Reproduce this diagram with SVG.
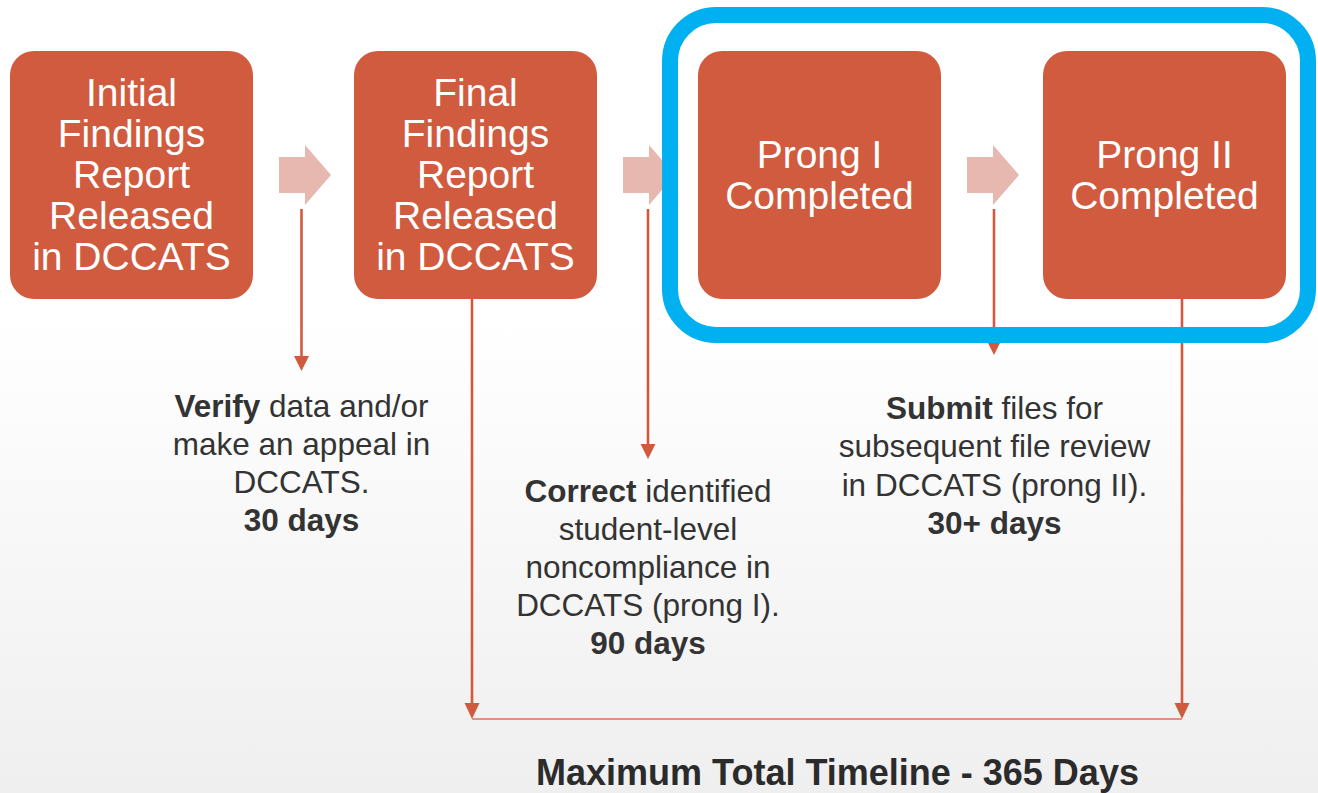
<svg xmlns="http://www.w3.org/2000/svg" width="1318" height="793" viewBox="0 0 1318 793">
<style>
.box{fill:#D15B3F}
.bt{font-family:"Liberation Sans",Arial,sans-serif;font-size:39px;fill:#FFFFFF;text-anchor:middle}
.lt{font-family:"Liberation Sans",Arial,sans-serif;font-size:31.5px;fill:#333333;text-anchor:middle}
.title{font-family:"Liberation Sans",Arial,sans-serif;font-size:36px;font-weight:bold;fill:#2B2B2B;text-anchor:middle}
.chev{fill:#E6B8AF}
.con{stroke:#D05A3E;stroke-width:2.6;fill:none}
.hz{stroke:#E3907E;stroke-width:2.2;fill:none}
.head{fill:#D05A3E}
</style>
<defs>
<linearGradient id="bg" x1="0" y1="0" x2="0" y2="1">
<stop offset="0" stop-color="#FFFFFF"/>
<stop offset="0.4" stop-color="#FFFFFF"/>
<stop offset="1" stop-color="#EFEFEF"/>
</linearGradient>
</defs>
<rect x="0" y="0" width="1318" height="793" fill="url(#bg)"/>

<g id="chevrons">
<polygon class="chev" points="279,157 305,157 305,145 331,175 305,205 305,193 279,193"/>
<polygon class="chev" points="623,157 649,157 649,145 675,175 649,205 649,193 623,193"/>
<polygon class="chev" points="967,157 993,157 993,145 1019,175 993,205 993,193 967,193"/>
</g>

<g id="connectors">
<line class="con" x1="301.5" y1="209" x2="301.5" y2="358"/>
<polygon class="head" points="294,356 309,356 301.5,371"/>
<line class="con" x1="648" y1="209" x2="648" y2="446"/>
<polygon class="head" points="640.5,444 655.5,444 648,459"/>
<line class="con" x1="994" y1="209" x2="994" y2="342"/>
<polygon class="head" points="986.5,340 1001.5,340 994,355"/>
<line class="con" x1="472" y1="299" x2="472" y2="705"/>
<polygon class="head" points="464.5,703 479.5,703 472,719"/>
<line class="con" x1="1182" y1="299" x2="1182" y2="705"/>
<polygon class="head" points="1174.5,703 1189.5,703 1182,719"/>
<line class="hz" x1="472" y1="719" x2="1182" y2="719"/>
</g>

<g id="node-initial">
<rect class="box" x="10" y="51" width="243" height="248" rx="24"/>
<text class="bt" x="131.5" y="106">Initial</text>
<text class="bt" x="131.5" y="147">Findings</text>
<text class="bt" x="131.5" y="188">Report</text>
<text class="bt" x="131.5" y="229">Released</text>
<text class="bt" x="131.5" y="270">in DCCATS</text>
</g>

<g id="node-final">
<rect class="box" x="354" y="51" width="243" height="248" rx="24"/>
<text class="bt" x="475.5" y="106">Final</text>
<text class="bt" x="475.5" y="147">Findings</text>
<text class="bt" x="475.5" y="188">Report</text>
<text class="bt" x="475.5" y="229">Released</text>
<text class="bt" x="475.5" y="270">in DCCATS</text>
</g>

<g id="node-prong1">
<rect class="box" x="698" y="51" width="243" height="248" rx="24"/>
<text class="bt" x="819.5" y="168">Prong I</text>
<text class="bt" x="819.5" y="209">Completed</text>
</g>

<g id="node-prong2">
<rect class="box" x="1043" y="51" width="243" height="248" rx="24"/>
<text class="bt" x="1164.5" y="168">Prong II</text>
<text class="bt" x="1164.5" y="209">Completed</text>
</g>

<g id="highlight">
<rect x="670" y="15" width="638" height="320" rx="46" fill="none" stroke="#00B0F0" stroke-width="16"/>
</g>

<g id="label-verify">
<text class="lt" x="301.5" y="417"><tspan font-weight="bold">Verify</tspan> data and/or</text>
<text class="lt" x="301.5" y="455">make an appeal in</text>
<text class="lt" x="301.5" y="493">DCCATS.</text>
<text class="lt" x="301.5" y="531" font-weight="bold">30 days</text>
</g>

<g id="label-correct">
<text class="lt" x="648" y="502"><tspan font-weight="bold">Correct</tspan> identified</text>
<text class="lt" x="648" y="540">student-level</text>
<text class="lt" x="648" y="578">noncompliance in</text>
<text class="lt" x="648" y="616">DCCATS (prong I).</text>
<text class="lt" x="648" y="654" font-weight="bold">90 days</text>
</g>

<g id="label-submit">
<text class="lt" x="994.5" y="419"><tspan font-weight="bold">Submit</tspan> files for</text>
<text class="lt" x="994.5" y="457">subsequent file review</text>
<text class="lt" x="994.5" y="496">in DCCATS (prong II).</text>
<text class="lt" x="994.5" y="534" font-weight="bold">30+ days</text>
</g>

<g id="title">
<text class="title" x="837.5" y="785">Maximum Total Timeline - 365 Days</text>
</g>
</svg>
